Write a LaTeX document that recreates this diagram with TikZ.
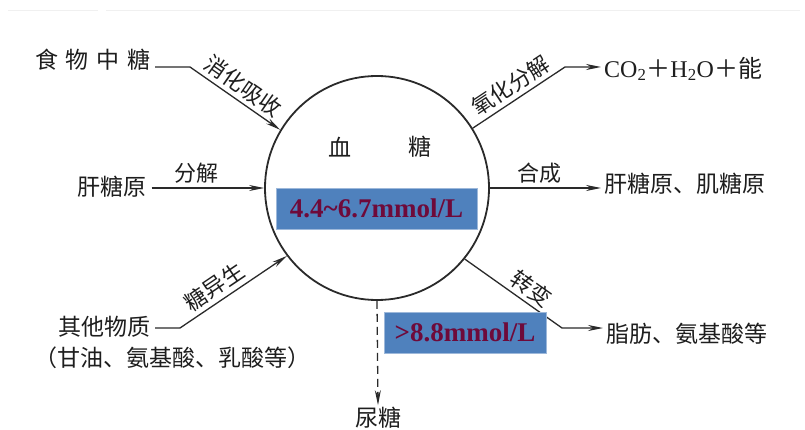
\documentclass[tikz,border=0pt]{standalone}
\usepackage{fontspec}
\setmainfont{Liberation Serif}
\newfontfamily\cjk{Noto Sans CJK SC}
\usetikzlibrary{arrows.meta}
\definecolor{txt}{HTML}{1E1E1E}
\definecolor{lin}{HTML}{2A2A2A}
\definecolor{boxblue}{HTML}{4F81BD}
\definecolor{boxedge}{HTML}{9DB8DA}
\definecolor{valtxt}{HTML}{6E0A3A}
\begin{document}
\begin{tikzpicture}[x=1pt,y=-1pt,
  lab/.style={font=\cjk\fontsize{23}{26}\selectfont, text=txt, inner sep=2pt},
  slab/.style={font=\cjk\fontsize{22}{24}\selectfont, text=txt, inner sep=4pt},
  arr/.style={draw=lin, line width=1.3pt, -{Stealth[length=15pt,width=6pt]}},
  valbox/.style={fill=boxblue, draw=boxedge, line width=0.8pt, text=valtxt,
    font=\bfseries\fontsize{27}{30}\selectfont, inner sep=0pt}]
\useasboundingbox (0,0) rectangle (805,430);
\fill[white] (0,0) rectangle (805,430);
\coordinate (tl1) at (8,10); \coordinate (tr1) at (98,10);
\coordinate (tl2) at (106,10); \coordinate (tr2) at (800,10);
\draw[gray!12, line width=0.8pt] (tl1) -- (tr1) (tl2) -- (tr2);

% circle
\node[circle, draw=lin, line width=1.8pt, minimum size=224pt, inner sep=0pt] (blood) at (377,188) {};
\node[lab] (xue) at (340,147) {血};
\node[lab] (tang) at (420,147) {糖};

% left side sources
\node[lab, inner sep=4pt] (food) at (93,60) {食\hspace{8pt}物\hspace{8pt}中\hspace{8pt}糖};
\node[lab, inner sep=5pt] (liver) at (112,187) {肝糖原};
\node[lab, inner sep=5pt] (other) at (104,327) {其他物质};
\node[lab] (other2) at (172,358) {（甘油、氨基酸、乳酸等）};

% right side products
\node[lab, inner sep=3pt, anchor=west] (co2) at (601,69) {\fontsize{24}{26}\selectfont\rmfamily CO\textsubscript{2}{\cjk ＋}H\textsubscript{2}O{\cjk ＋能}};
\node[lab, inner sep=3pt, anchor=west] (gly) at (601,184) {肝糖原、肌糖原};
\node[lab, inner sep=3pt, anchor=west] (fat) at (603,334) {脂肪、氨基酸等};
\node[lab] (urine) at (378,418) {尿糖};

% bend points
\coordinate (foodb) at (190,67);
\coordinate (oxb) at (565,67);
\coordinate (otherb) at (180,328);
\coordinate (fatb) at (562,328);

% connectors
\draw[arr] (food.east |- foodb) -- (foodb) -- node[sloped, above, slab, pos=0.5] {消化吸收} (blood.149);
\draw[arr] (liver.east |- blood.west) -- node[above, slab, pos=0.4] {分解} (blood.west);
\draw[arr] (other.east |- otherb) -- (otherb) -- node[sloped, above, slab, pos=0.4] {糖异生} (blood.217);
\draw[arr] (blood.32) -- node[sloped, above, slab, pos=0.5] {氧化分解} (oxb) -- (co2.west |- oxb);
\draw[arr] (blood.east) -- node[above, slab, pos=0.45] {合成} (gly.west |- blood.east);
\draw[arr] (blood.-39) -- node[sloped, above, slab, pos=0.6] {转变} (fatb) -- (fat.west |- fatb);
\draw[arr, dash pattern=on 8pt off 5pt] (blood.south) -- (urine.north);

% value boxes
\node[valbox, minimum width=201pt, minimum height=41pt] (v1) at (376.5,208.5) {4.4\textasciitilde 6.7mmol/L};
\node[valbox, minimum width=162pt, minimum height=41pt] (v2) at (465,332.5) {>8.8mmol/L};
\end{tikzpicture}
\end{document}
